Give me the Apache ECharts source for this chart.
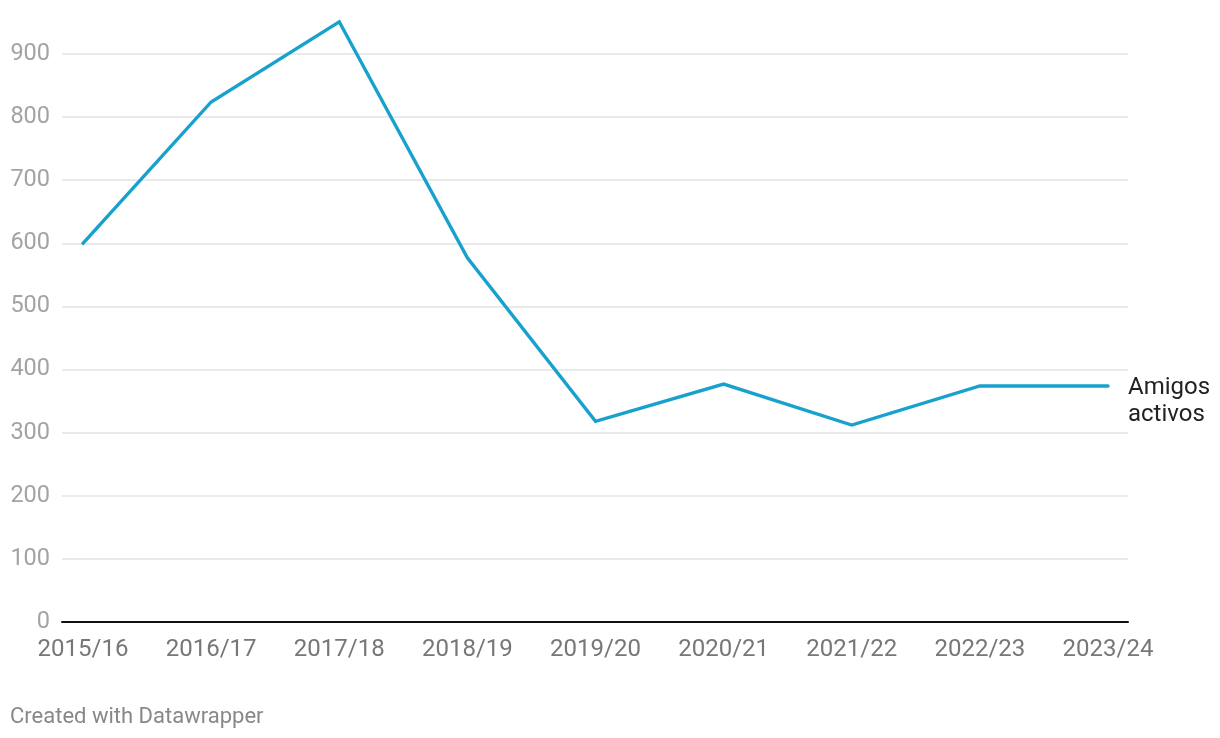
<!DOCTYPE html>
<html>
<head>
<meta charset="utf-8">
<script src="https://cdn.jsdelivr.net/npm/echarts@6/dist/echarts.min.js"></script>
<style>
html,body{margin:0;padding:0;background:#fff;}
#chart{width:1220px;height:738px;}
</style>
</head>
<body>
<div id="chart"></div>
<script>
const categories = ['2015/16','2016/17','2017/18','2018/19','2019/20','2020/21','2021/22','2022/23','2023/24'];
const amigosActivos = [600, 824, 951, 577, 318, 377, 312, 374, 374];
const seriesName = 'Amigos activos';
const yTicks = [0, 100, 200, 300, 400, 500, 600, 700, 800, 900];

const chart = echarts.init(document.getElementById('chart'), null, {renderer: 'canvas'});
const font = 'Roboto';
chart.setOption({
  animation: false,
  backgroundColor: '#ffffff',
  textStyle: {fontFamily: font},
  grid: [
    {left: 62, right: 92, top: 54, bottom: 116, containLabel: false},
    {left: 83, right: 112, top: 54, bottom: 116, containLabel: false}
  ],
  xAxis: [
    {gridIndex: 0, type: 'value', min: 0, max: 1, show: true,
     axisLine: {show: true, onZero: false, lineStyle: {color: '#111', width: 2}},
     axisTick: {show: false}, axisLabel: {show: false}, splitLine: {show: false}},
    {gridIndex: 1, type: 'category', data: categories, boundaryGap: false,
     axisLine: {show: false}, axisTick: {show: false},
     axisLabel: {color: '#777', fontSize: 24, fontFamily: font, margin: 16, interval: 0},
     splitLine: {show: false}}
  ],
  yAxis: [
    {gridIndex: 0, type: 'value', min: yTicks[0], max: yTicks[yTicks.length-1], interval: 100,
     axisLine: {show: false}, axisTick: {show: false},
     axisLabel: {color: '#a3a3a3', fontSize: 23.5, fontFamily: font, margin: 12},
     splitLine: {show: true, lineStyle: {color: '#e3e3e3', width: 1.5}}},
    {gridIndex: 1, type: 'value', min: yTicks[0], max: yTicks[yTicks.length-1], interval: 100,
     show: false, splitLine: {show: false}}
  ],
  series: [{
    name: seriesName,
    type: 'line',
    xAxisIndex: 1, yAxisIndex: 1,
    data: amigosActivos,
    clip: false,
    symbol: 'none',
    lineStyle: {color: '#18a1cd', width: 3.4, cap: 'round', join: 'miter'},
    endLabel: {
      show: true,
      formatter: 'Amigos\nactivos',
      color: '#222',
      fontSize: 24,
      fontFamily: font,
      lineHeight: 27,
      distance: 0,
      offset: [20, 16],
      align: 'left'
    }
  }],
  graphic: [{
    type: 'text', left: 10, top: 706,
    style: {text: 'Created with Datawrapper', fill: '#888', fontSize: 22, fontFamily: font}
  }]
});
</script>
</body>
</html>
